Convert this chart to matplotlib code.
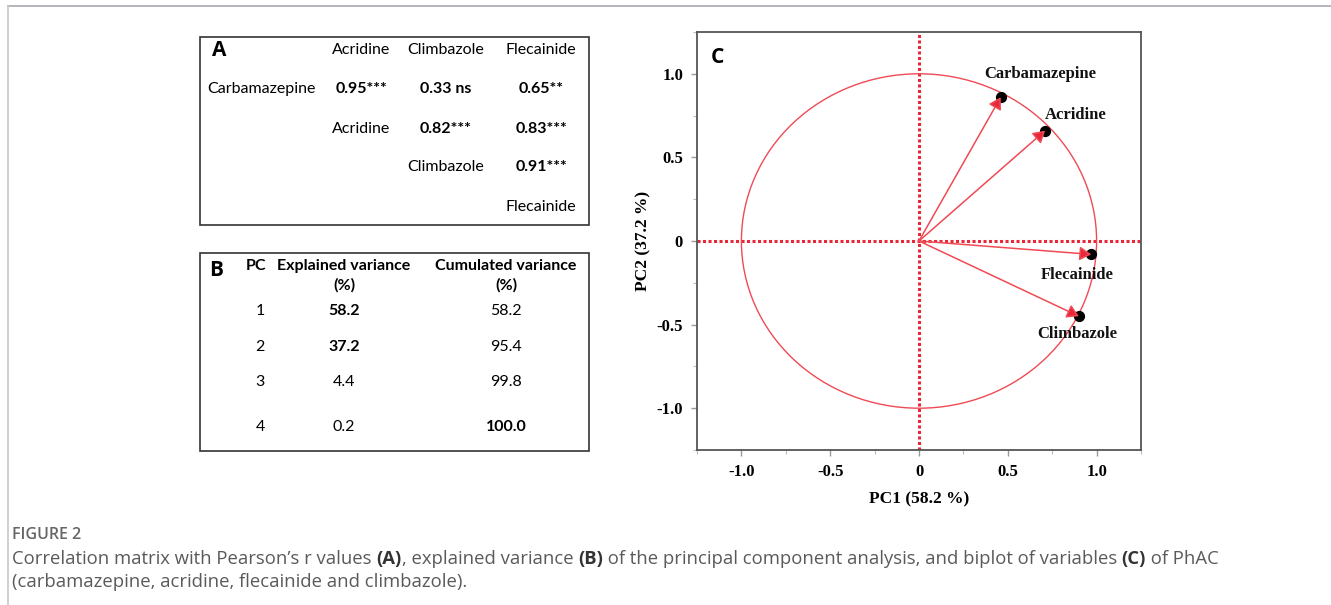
import matplotlib
matplotlib.use("Agg")
import matplotlib.pyplot as plt
from matplotlib.lines import Line2D
from matplotlib.patches import Rectangle, Circle
import numpy as np

# ---------------- data ----------------
corr_vars = ["Carbamazepine", "Acridine", "Climbazole", "Flecainide"]
corr_r = [[0.95, 0.33, 0.65], [0.82, 0.83], [0.91]]
corr_sig = [["***", " ns", "**"], ["***", "***"], ["***"]]

pc_num = [1, 2, 3, 4]
explained_var = [58.2, 37.2, 4.4, 0.2]
cumulated_var = [58.2, 95.4, 99.8, 100.0]

load_names = ["Carbamazepine", "Acridine", "Flecainide", "Climbazole"]
load_pc1 = [0.45, 0.70, 0.96, 0.89]
load_pc2 = [0.86, 0.66, -0.08, -0.45]

x_ticks = [-1.0, -0.5, 0, 0.5, 1.0]
x_ticklabels = ["-1.0", "-0.5", "0", "0.5", "1.0"]
y_ticks = [-1.0, -0.5, 0, 0.5, 1.0]
y_ticklabels = ["-1.0", "-0.5", "0", "0.5", "1.0"]

W, H = 1331, 605
fig = plt.figure(figsize=(W / 100, H / 100), dpi=100)


def P(x, y):
    return (x / W, 1 - y / H)


TFONT = "Lato"
LFONT = "Open Sans"
# ---------------- page border ----------------
fig.add_artist(Line2D([8 / W, 1], [1 - 6 / H, 1 - 6 / H], color="#a8a8b0", lw=1.2))
fig.add_artist(Line2D([8 / W, 8 / W], [0, 1 - 6 / H], color="#c8c8cc", lw=1.2))

# ---------------- Panel A ----------------
fig.add_artist(Rectangle(P(200, 225), 389 / W, 188 / H, fill=False, ec="#333333", lw=1.2))
fig.text(*P(219, 50), "A", fontsize=15, fontweight="bold", family=LFONT, ha="center", va="center")
col_x = [361, 446, 541]
row_y = [89, 129, 167, 207]
head_y = 50
for j, name in enumerate(corr_vars[1:]):
    fig.text(*P(col_x[j], head_y), name, fontsize=11.5, family=TFONT, ha="center", va="center")
fig.text(*P(261, row_y[0]), corr_vars[0], fontsize=11.5, family=TFONT, ha="center", va="center")
for i in range(1, 4):
    fig.text(*P(col_x[i - 1], row_y[i]), corr_vars[i], fontsize=11.5, family=TFONT, ha="center", va="center")
for i, (vals, sigs) in enumerate(zip(corr_r, corr_sig)):
    for k, (v, s) in enumerate(zip(vals, sigs)):
        j = i + k
        fig.text(*P(col_x[j], row_y[i]), f"{v:.2f}{s}", fontsize=11.5, family=TFONT,
                 fontweight="bold", ha="center", va="center")

# ---------------- Panel B ----------------
fig.add_artist(Rectangle(P(200, 451), 389 / W, 198 / H, fill=False, ec="#333333", lw=1.2))
fig.text(*P(216, 271), "B", fontsize=15, fontweight="bold", family=LFONT, ha="center", va="center")
fig.text(*P(256, 266), "PC", fontsize=11.5, fontweight="bold", family=TFONT, ha="center", va="center")
fig.text(*P(344, 266), "Explained variance", fontsize=11.5, fontweight="bold", family=TFONT, ha="center", va="center")
fig.text(*P(344, 285), "(%)", fontsize=11.5, fontweight="bold", family=TFONT, ha="center", va="center")
fig.text(*P(506, 266), "Cumulated variance", fontsize=11.5, fontweight="bold", family=TFONT, ha="center", va="center")
fig.text(*P(506, 285), "(%)", fontsize=11.5, fontweight="bold", family=TFONT, ha="center", va="center")
b_rows = [311, 347, 382, 427]
for k, (p, e, c) in enumerate(zip(pc_num, explained_var, cumulated_var)):
    fig.text(*P(260, b_rows[k]), str(p), fontsize=11.5, family=TFONT, ha="center", va="center")
    fig.text(*P(344, b_rows[k]), f"{e:.1f}", fontsize=11.5, family=TFONT, ha="center", va="center",
             fontweight="bold" if k < 2 else "normal")
    fig.text(*P(506, b_rows[k]), f"{c:.1f}", fontsize=11.5, family=TFONT, ha="center", va="center",
             fontweight="bold" if k == 3 else "normal")

# ---------------- Panel C ----------------
ax = fig.add_axes([697 / W, 1 - 450 / H, 444 / W, 418 / H])
ax.set_xlim(-1.25, 1.25)
ax.set_ylim(-1.25, 1.25)
red = "#e8283a"
ax.axhline(0, color=red, lw=2.2, ls=(0, (1, 0.8)), zorder=1)
ax.axvline(0, color=red, lw=2.2, ls=(0, (1, 0.8)), zorder=1)
ax.add_patch(Circle((0, 0), 1.0, fill=False, ec="#f04a55", lw=1.0, zorder=2))

offsets = {"Carbamazepine": (30, 17), "Acridine": (23, 11), "Flecainide": (-9, -15), "Climbazole": (0, -13)}
for name, x, y in zip(load_names, load_pc1, load_pc2):
    ax.scatter([x + 0.01], [y], s=50, color="black", zorder=3)
    ax.annotate("", xy=(x + 0.01, y), xytext=(0, 0),
                arrowprops=dict(arrowstyle="-|>,head_length=0.5,head_width=0.3", color="#f04a55",
                                lw=1.1, mutation_scale=14, shrinkA=0, shrinkB=0, fc=red), zorder=4)
    dx, dy = offsets[name]
    ax.annotate(name, xy=(x, y), xytext=(dx, dy), textcoords="offset points",
                ha="center", va="center", fontsize=12, fontweight="bold",
                family="Liberation Serif", color="#111111", zorder=5)

ax.set_xticks(x_ticks)
ax.set_xticklabels(x_ticklabels)
ax.set_yticks(y_ticks)
ax.set_yticklabels(y_ticklabels)
ax.set_xticks(np.arange(-1.25, 1.26, 0.25), minor=True)
ax.set_yticks(np.arange(-1.25, 1.26, 0.25), minor=True)
for lab in ax.get_xticklabels() + ax.get_yticklabels():
    lab.set_family("Liberation Serif")
    lab.set_fontweight("bold")
    lab.set_fontsize(12)
ax.tick_params(which="major", length=4, color="#999999", width=1, pad=6)
ax.tick_params(which="minor", length=3, color="#bbbbbb", width=0.8)
for sp in ax.spines.values():
    sp.set_color("#555555")
    sp.set_linewidth(1.3)
ax.set_xlabel("PC1 (58.2 %)", family="Liberation Serif", fontweight="bold", fontsize=12.5, labelpad=8)
ax.set_ylabel("PC2 (37.2 %)", family="Liberation Serif", fontweight="bold", fontsize=12.5, labelpad=4)
ax.text(0.047, 0.94, "C", transform=ax.transAxes, fontsize=15, fontweight="bold", family=LFONT,
        ha="center", va="center")

# ---------------- caption ----------------
CF = "Open Sans"
fig.text(*P(12, 535), "FIGURE 2", fontsize=11.5, family=CF, fontweight="semibold", color="#666666",
         ha="left", va="center")

renderer = fig.canvas.get_renderer()


def write_pieces(pieces, x0, y0):
    x = x0
    for txt, bold in pieces:
        t = fig.text(x / W, 1 - y0 / H, txt, fontsize=13.3, family=CF, color="#333333" if bold else "#5a5a5a",
                     fontweight="bold" if bold else "normal", ha="left", va="center")
        bb = t.get_window_extent(renderer=renderer)
        x += bb.width


line1 = [("Correlation matrix with Pearson\u2019s r values ", False), ("(A)", True),
         (", explained variance ", False), ("(B)", True),
         (" of the principal component analysis, and biplot of variables ", False), ("(C)", True),
         (" of PhAC", False)]
write_pieces(line1, 12, 559)
write_pieces([("(carbamazepine, acridine, flecainide and climbazole).", False)], 12, 582)

fig.savefig("out.png", dpi=100)
